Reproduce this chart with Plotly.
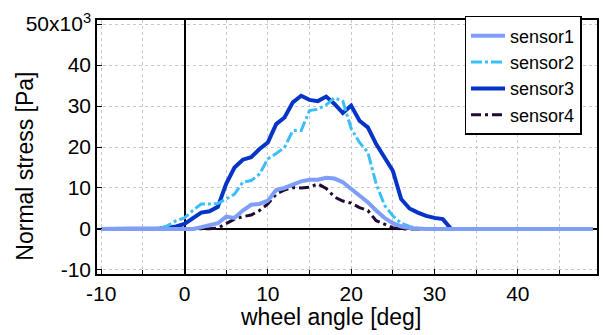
import plotly.graph_objects as go

angle = list(range(-10, 50))

# values in Pa, from -10 deg to 49 deg in 1-deg steps
s1_k = [0,0,0,0,0,0,0,0,0,0, 0,0,0.4,0.8,1.4,3.0,2.7,4.5,5.9,6.1,
        6.9,9.5,10.0,10.8,11.6,12.0,12.0,12.5,12.3,11.4,
        9.8,8.2,6.5,4.5,2.7,1.4,0.6,0.2,0,0] + [0]*20
s2_k = [0,0,0,0,0,0,0,0.2,0.8,2.0, 2.7,4.5,6.1,6.1,6.2,7.3,8.5,11.4,11.8,13.4,
        17.1,18.4,19.9,24.0,24.0,28.9,29.2,30.3,32.0,31.2,
        24.5,21.1,18.7,11.0,5.8,3.2,1.4,0.6,0.1,0] + [0]*20
s3_k = [0,0,0,0,0,0,0,0.1,0.3,0.6, 1.2,2.5,4.0,4.3,5.4,11.0,15.0,16.9,17.5,19.5,
        21.1,25.6,27.2,30.9,32.5,31.5,31.2,32.3,30.5,28.3,
        30.1,26.4,24.8,20.7,17.5,14.2,7.3,5.0,4.0,3.2,
        2.7,2.4,0,0,0,0,0,0,0,0] + [0]*10
s4_k = [0,0,0,0,0,0,0,0,0,0, 0,0,0,0.05,0.2,1.2,2.4,3.0,3.4,4.5,
        6.1,8.5,9.5,10.1,10.0,10.2,11.0,9.9,7.8,6.8,
        6.3,5.2,4.5,2.0,1.1,0.3,0,0,0,0] + [0]*20

sensor1 = [v * 1000 for v in s1_k]
sensor2 = [v * 1000 for v in s2_k]
sensor3 = [v * 1000 for v in s3_k]
sensor4 = [v * 1000 for v in s4_k]

ytick_vals = [-10000, 0, 10000, 20000, 30000, 40000, 50000]
ytick_text = ["-10", "0", "10", "20", "30", "40", "50x10<sup>3</sup>"]
xtick_vals = [-10, 0, 10, 20, 30, 40]
xtick_text = ["-10", "0", "10", "20", "30", "40"]

FONT = "Liberation Sans, Arial, Helvetica, sans-serif"

fig = go.Figure()
fig.add_trace(go.Scatter(x=angle, y=sensor4, name="sensor4", mode="lines",
                         line=dict(color="#1E0A32", width=3, dash="10px,4px,3px,4px")))
fig.add_trace(go.Scatter(x=angle, y=sensor3, name="sensor3", mode="lines",
                         line=dict(color="#0634C6", width=4)))
fig.add_trace(go.Scatter(x=angle, y=sensor2, name="sensor2", mode="lines",
                         line=dict(color="#3CBEFA", width=3, dash="11px,3px,3px,3px")))
fig.add_trace(go.Scatter(x=angle, y=sensor1, name="sensor1", mode="lines",
                         line=dict(color="#7F9EF8", width=4)))

fig.update_layout(
    width=603, height=335,
    margin=dict(l=97, r=6, t=20, b=61, autoexpand=False),
    paper_bgcolor="white", plot_bgcolor="white",
    font=dict(family=FONT, size=21, color="black"),
    showlegend=True,
    legend=dict(x=0.735, y=1.016, xanchor="left", yanchor="top",
                bgcolor="white", bordercolor="black", borderwidth=1.5,
                traceorder="reversed", font=dict(size=18),
                tracegroupgap=0, itemwidth=34),
    xaxis=dict(range=[-10.5, 49.5], tickvals=xtick_vals, ticktext=xtick_text,
               automargin=False,
               showline=True, linecolor="black", linewidth=1.5, mirror=True,
               ticks="inside", ticklen=5, tickcolor="black",
               showgrid=True, gridcolor="#c8c8c8", griddash="dot", gridwidth=1,
               zeroline=True, zerolinecolor="black", zerolinewidth=1.5,
               minor=dict(dtick=5, ticks="inside", ticklen=4, tickcolor="black",
                          showgrid=True, gridcolor="#c8c8c8", griddash="dot"),
               tickfont=dict(size=21)),
    yaxis=dict(range=[-11000, 51000], tickvals=ytick_vals, ticktext=ytick_text,
               automargin=False,
               showline=True, linecolor="black", linewidth=1.5, mirror=True,
               ticks="inside", ticklen=5, tickcolor="black",
               showgrid=True, gridcolor="#c8c8c8", griddash="dot", gridwidth=1,
               zeroline=True, zerolinecolor="black", zerolinewidth=1.5,
               tickfont=dict(size=21)),
    annotations=[
        dict(text="wheel angle [deg]", xref="paper", yref="paper",
             x=0.466, y=-0.168, xanchor="center", yanchor="middle",
             showarrow=False, font=dict(size=23)),
        dict(text="Normal stress [Pa]", xref="paper", yref="paper",
             x=-0.144, y=0.4225, xanchor="center", yanchor="middle",
             textangle=-90, showarrow=False, font=dict(size=23)),
    ],
)

fig.write_html("out.html", config={"displayModeBar": False},
               post_script="document.body.style.margin='0';document.body.style.padding='0';")
